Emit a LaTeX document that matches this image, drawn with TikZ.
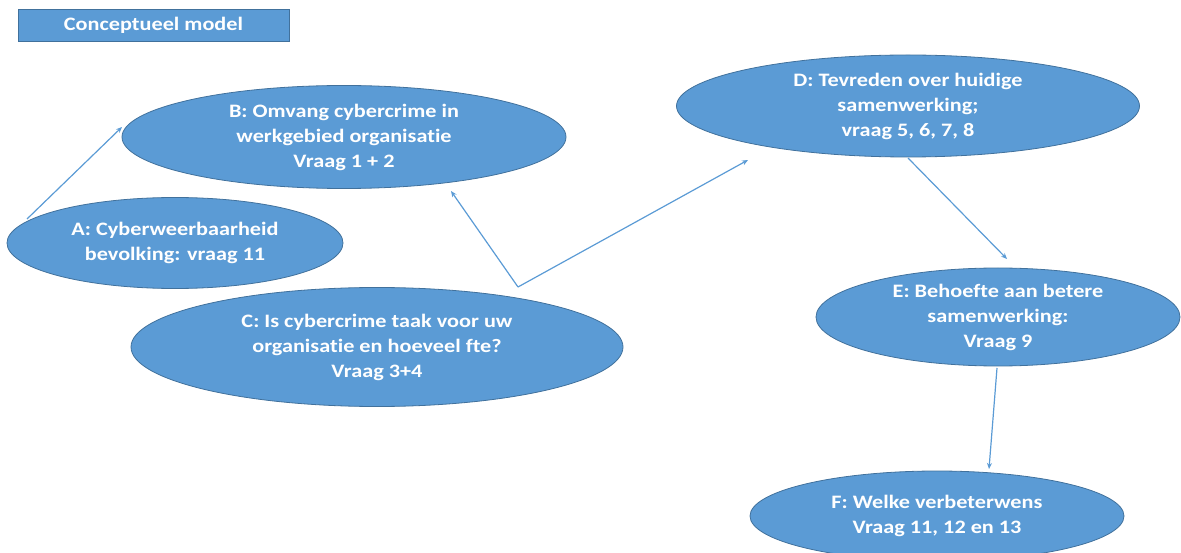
\documentclass[tikz,border=0pt]{standalone}
\usepackage{fontspec}
\setmainfont[Ligatures={NoCommon},FakeStretch=1.17]{Carlito}
\usetikzlibrary{shapes.geometric,arrows.meta}
\definecolor{fillblue}{HTML}{5B9BD5}
\definecolor{edgeblue}{HTML}{41719C}
\definecolor{arrowblue}{HTML}{5B9BD5}
\tikzset{
  oval/.style={ellipse, fill=fillblue, draw=edgeblue, line width=0.8pt, inner sep=0pt},
  ovaltext/.style={text=white, align=center, inner sep=0pt, font=\fontsize{19}{25}\selectfont\bfseries},
  titlebox/.style={rectangle, fill=fillblue, draw=edgeblue, line width=0.8pt, inner sep=0pt,
    text=white, font=\fontsize{19}{23}\selectfont\bfseries},
  conn/.style={draw=arrowblue, line width=1.2pt, -{Stealth[length=6pt,width=5pt]}}
}
\begin{document}
\begin{tikzpicture}[x=1pt,y=-1pt]
\useasboundingbox (0,0) rectangle (1181,553);
\node[titlebox, minimum width=271pt, minimum height=32pt] (title) at (153.5,25) {Conceptueel model};
\node[oval, minimum width=444pt, minimum height=103pt,
  label={[ovaltext]center:B: Omvang cybercrime in\\werkgebied organisatie\\Vraag 1 + 2}] (B) at (344,137) {};
\node[oval, minimum width=336pt, minimum height=91pt,
  label={[ovaltext]center:A: Cyberweerbaarheid\\bevolking: vraag 11}] (A) at (175,243) {};
\node[oval, minimum width=492pt, minimum height=119pt,
  label={[ovaltext]center:C: Is cybercrime taak voor uw\\organisatie en hoeveel fte?\\Vraag 3+4}] (C) at (377,347) {};
\node[oval, minimum width=463pt, minimum height=102pt,
  label={[ovaltext]center:D: Tevreden over huidige\\samenwerking;\\vraag 5, 6, 7, 8}] (D) at (908,106) {};
\node[oval, minimum width=364pt, minimum height=98pt,
  label={[ovaltext]center:E: Behoefte aan betere\\samenwerking:\\Vraag 9}] (E) at (998,317) {};
\node[oval, minimum width=374pt, minimum height=90pt,
  label={[ovaltext]center:F: Welke verbeterwens\\Vraag 11, 12 en 13}] (F) at (937,516) {};
\coordinate (aStart) at (27,219);
\coordinate (bTip) at (122,127);
\coordinate (cJoin) at (518,287);
\coordinate (bTip2) at (451,191);
\coordinate (dTip) at (748,160);
\coordinate (dStart) at (908,158);
\coordinate (eTip) at (1007,259);
\coordinate (eStart) at (997,368);
\coordinate (fTip) at (989,469);
\draw[conn] (aStart) -- (bTip);
\draw[conn] (cJoin) -- (bTip2);
\draw[conn] (cJoin) -- (dTip);
\draw[conn] (dStart) -- (eTip);
\draw[conn] (eStart) -- (fTip);
\end{tikzpicture}
\end{document}
